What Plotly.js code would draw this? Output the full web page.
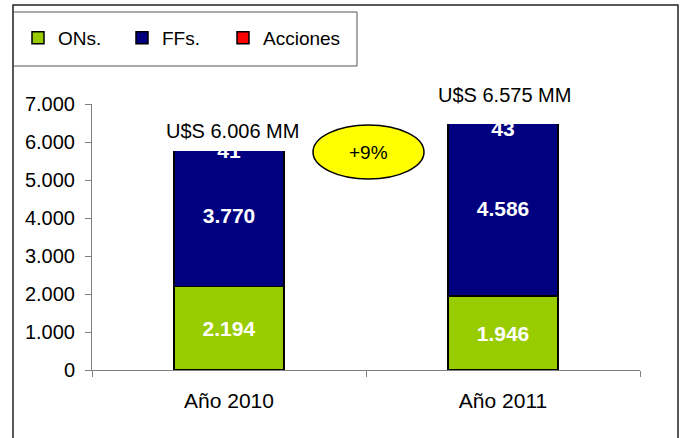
<!DOCTYPE html>
<html>
<head>
<meta charset="utf-8">
<script src="https://cdn.plot.ly/plotly-3.0.1.min.js"></script>
<style>
html,body{margin:0;padding:0;background:#fff;}
#chart{width:684px;height:438px;}
</style>
</head>
<body>
<div id="chart"></div>
<script>
// ---- data ----
var categories = ["Año 2010", "Año 2011"];
var ons = [2194, 1946];
var ffs = [3770, 4586];
var acciones = [41, 43];
var totalLabels = ["U$S 6.006 MM", "U$S 6.575 MM"];
var changeLabel = "+9%";
var seriesNames = ["ONs.", "FFs.", "Acciones"];

// ---- layout helpers (pixel -> paper) ----
var W = 684, H = 438;
var M = {l: 92, r: 44, t: 104, b: 68};
var PW = W - M.l - M.r, PH = H - M.t - M.b;
function X(px){ return (px - M.l) / PW; }
function Y(py){ return 1 - (py - M.t) / PH; }

var FONT = "Liberation Sans, Arial, sans-serif";
var totals = categories.map(function(_, i){ return ons[i] + ffs[i] + acciones[i]; });

var barLine = {color: "#000000", width: 1.5};
var insideFont = {family: FONT, size: 21, color: "#ffffff", weight: "bold"};

var traces = [
  {type: "bar", name: seriesNames[0], legend: "legend", x: categories, y: ons,
   marker: {color: "#99CC00", line: barLine},
   texttemplate: "%{y:,}", textposition: "inside", insidetextanchor: "middle",
   textfont: insideFont, hoverinfo: "skip"},
  {type: "bar", name: seriesNames[1], legend: "legend2", x: categories, y: ffs,
   marker: {color: "#000080", line: barLine},
   texttemplate: "%{y:,}", textposition: "inside", insidetextanchor: "middle",
   textfont: insideFont, hoverinfo: "skip"},
  {type: "bar", name: seriesNames[2], legend: "legend3", x: categories, y: acciones,
   marker: {color: "#FF0000", line: barLine},
   textposition: "none", hoverinfo: "skip"},
  {type: "scatter", mode: "text", x: categories, y: totals,
   text: acciones.map(String), textposition: "bottom center",
   textfont: insideFont, showlegend: false, cliponaxis: false, hoverinfo: "skip"}
];

function legendAt(px, py){
  return {
    orientation: "h", traceorder: "normal",
    x: X(px), y: Y(py), xanchor: "left", yanchor: "top",
    font: {family: FONT, size: 19, color: "#000000"},
    bgcolor: "rgba(0,0,0,0)", borderwidth: 0, itemwidth: 30
  };
}

var layout = {
  width: W, height: H,
  margin: M,
  paper_bgcolor: "#ffffff", plot_bgcolor: "#ffffff",
  font: {family: FONT, color: "#000000"},
  separators: ",.",
  barmode: "stack",
  bargap: 0.6,
  showlegend: true,
  legend: legendAt(18, 19),
  legend2: legendAt(122, 19),
  legend3: legendAt(223, 19),
  xaxis: {
    type: "category", showgrid: false, zeroline: false,
    showline: true, linecolor: "#808080", linewidth: 1,
    ticks: "outside", tickson: "boundaries", ticklen: 6, tickcolor: "#808080",
    tickfont: {family: FONT, size: 21, color: "#000000"},
    ticklabelstandoff: 12
  },
  yaxis: {
    range: [0, 7000], dtick: 1000, tickformat: ",d",
    showgrid: false, zeroline: false,
    showline: true, linecolor: "#808080", linewidth: 1,
    ticks: "outside", ticklen: 6, tickcolor: "#808080",
    tickfont: {family: FONT, size: 20, color: "#000000"},
    ticklabelstandoff: 6
  },
  shapes: [
    // outer frame
    {type: "rect", xref: "paper", yref: "paper", x0: X(13), x1: X(678), y0: Y(5), y1: Y(445),
     line: {color: "#222222", width: 1.5}, fillcolor: "rgba(0,0,0,0)", layer: "below"},
    // legend box
    {type: "rect", xref: "paper", yref: "paper", x0: X(13), x1: X(357), y0: Y(12), y1: Y(66),
     line: {color: "#555555", width: 1}, fillcolor: "rgba(0,0,0,0)", layer: "below"},
    // white text boxes covering bar tops
    {type: "rect", xref: "paper", yref: "paper", x0: X(158), x1: X(302), y0: Y(108), y1: Y(151),
     line: {width: 0}, fillcolor: "#ffffff", layer: "above"},
    {type: "rect", xref: "paper", yref: "paper", x0: X(432), x1: X(582), y0: Y(78), y1: Y(124),
     line: {width: 0}, fillcolor: "#ffffff", layer: "above"},
    // ellipse
    {type: "circle", xref: "paper", yref: "paper", x0: X(313), x1: X(424), y0: Y(125), y1: Y(179),
     line: {color: "#000000", width: 1.5}, fillcolor: "#FFFF00", layer: "above"}
  ],
  annotations: [
    {xref: "paper", yref: "paper", x: X(232), y: Y(131), text: totalLabels[0], showarrow: false,
     xanchor: "center", yanchor: "middle", font: {family: FONT, size: 20, color: "#000000"}},
    {xref: "paper", yref: "paper", x: X(504), y: Y(95), text: totalLabels[1], showarrow: false,
     xanchor: "center", yanchor: "middle", font: {family: FONT, size: 20, color: "#000000"}},
    {xref: "paper", yref: "paper", x: X(368), y: Y(152), text: changeLabel, showarrow: false,
     xanchor: "center", yanchor: "middle", font: {family: FONT, size: 19, color: "#000000"}}
  ]
};

Plotly.newPlot("chart", traces, layout, {displayModeBar: false, staticPlot: true});
</script>
</body>
</html>
